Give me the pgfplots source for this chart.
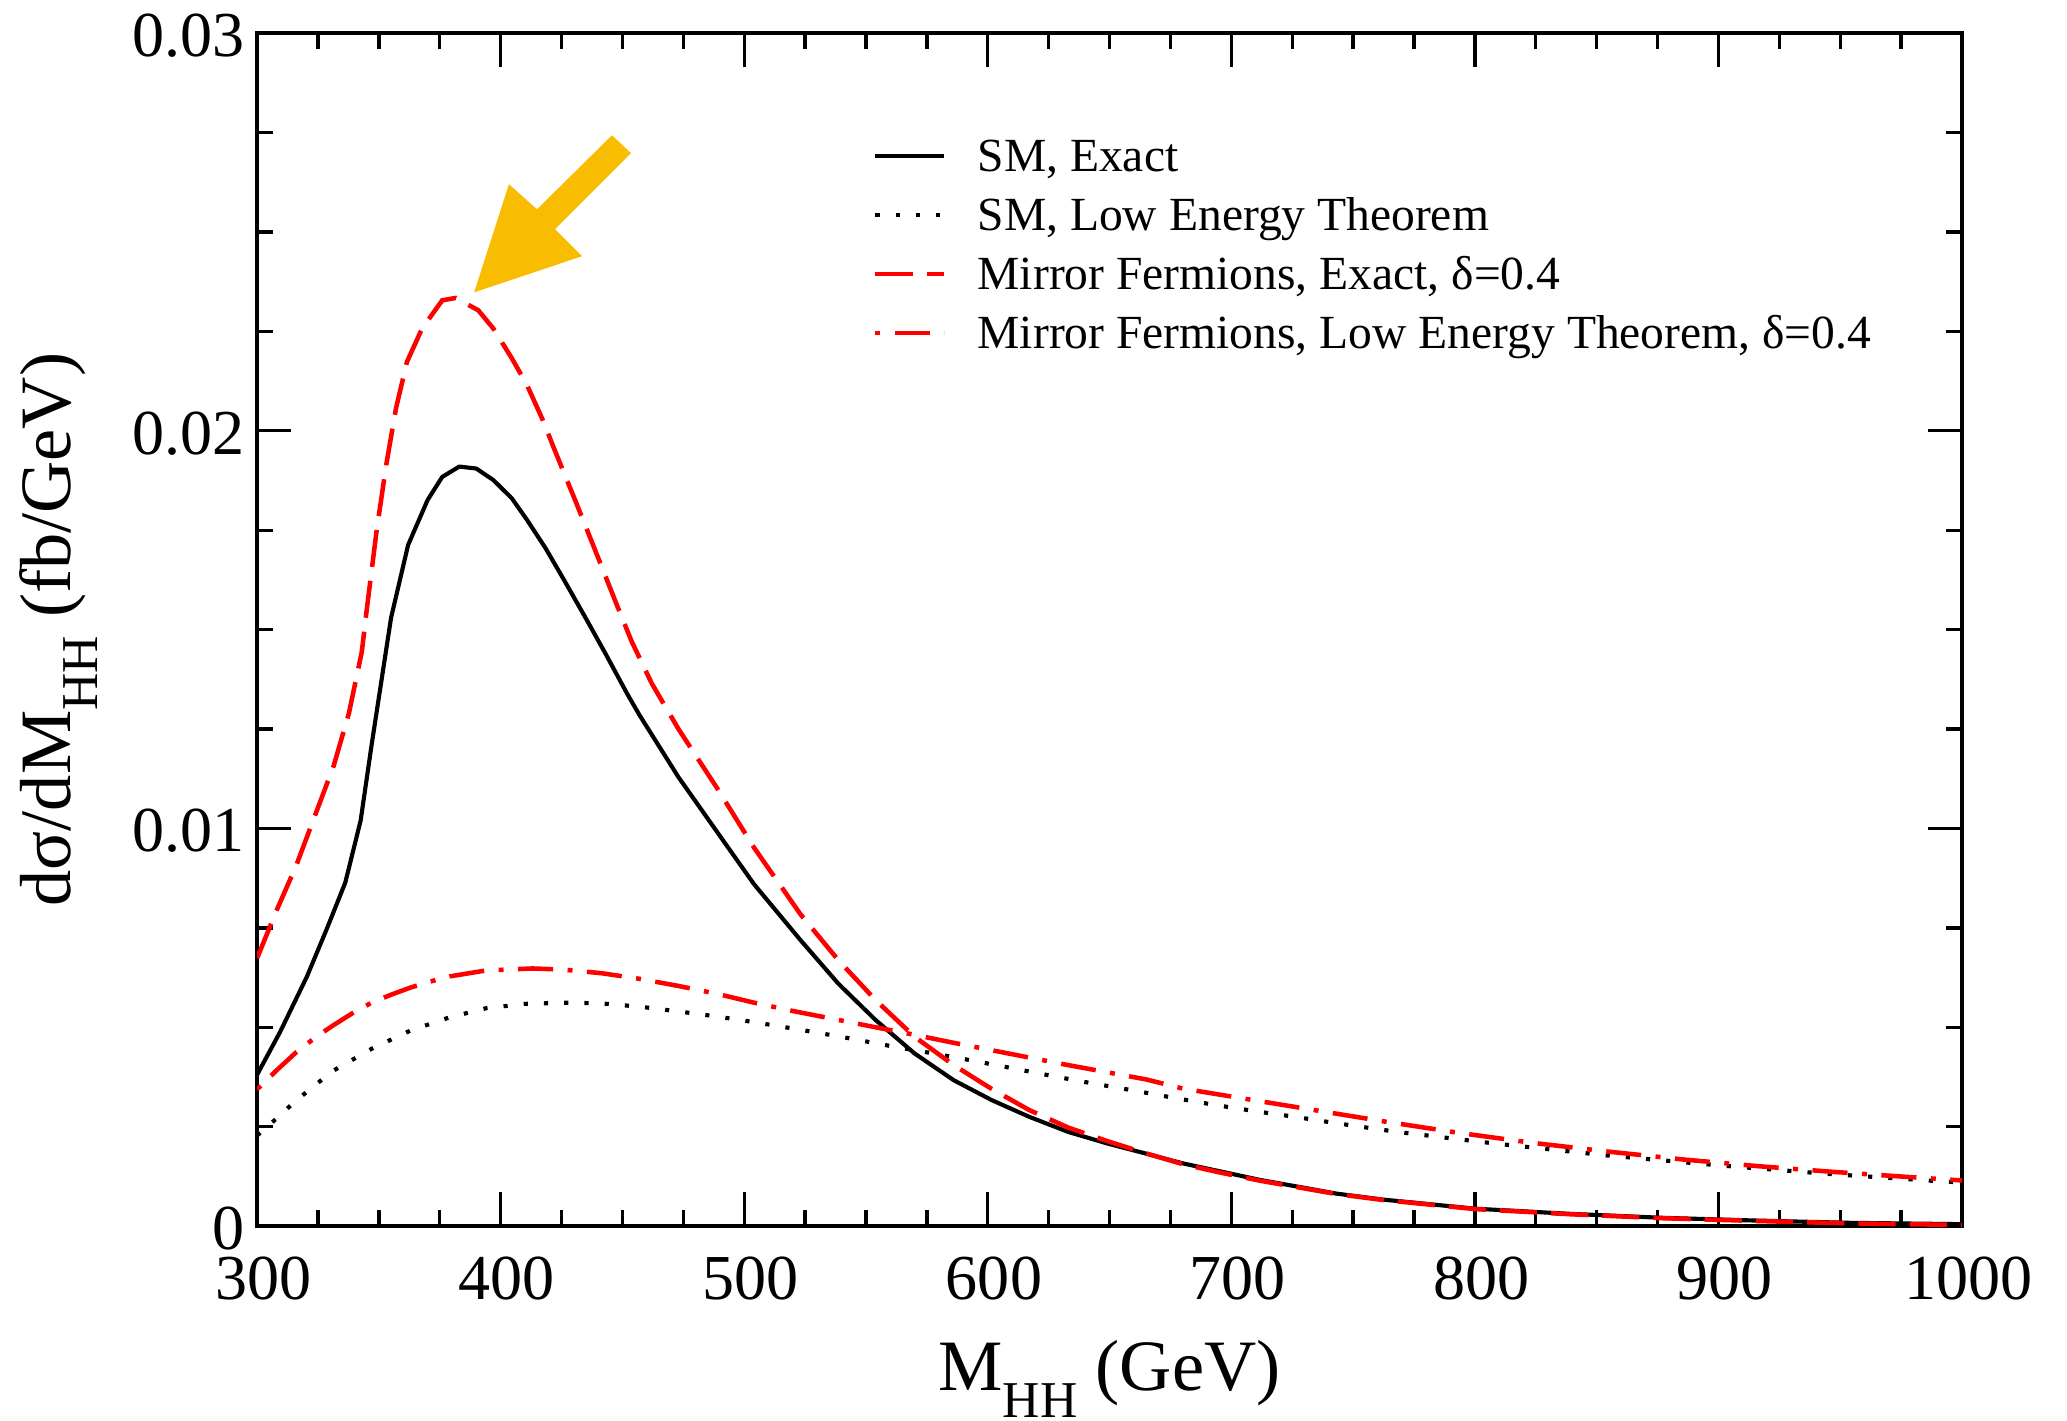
\documentclass[border=0pt]{standalone}
\usepackage{fontspec}
\setmainfont{Liberation Serif}
\usepackage{pgfplots}
\pgfplotsset{compat=1.18}
\definecolor{arrowgold}{RGB}{248,188,0}
\definecolor{pured}{RGB}{255,0,0}

\begin{document}
\begin{tikzpicture}
\begin{axis}[
  at={(0,0)}, anchor=south west,
  scale only axis, width=412.4pt, height=288.6pt,
  xmin=300, xmax=1000, ymin=0, ymax=0.03,
  xtick={300,400,500,600,700,800,900,1000},
  xticklabels={300,400,500,600,700,800,900,1000},
  ytick={0,0.01,0.02,0.03}, yticklabels={0,0.01,0.02,0.03},
  minor x tick num=3, minor y tick num=3,
  tick align=inside, tick pos=both,
  major tick length=8.2pt, minor tick length=3.9pt,
  every tick/.style={black, line width=0.8pt},
  axis line style={line width=1pt},
  /pgf/number format/assume math mode=true,
  ticklabel style={font=\fontsize{15.5}{16}\selectfont, inner sep=1pt},
  xticklabel style={yshift=-6.3pt, xshift=1.5pt},
  yticklabel style={xshift=-1.9pt, yshift=-0.6pt},
  xlabel={M\raisebox{-6.5pt}{\fontsize{12.5}{12.5}\selectfont HH} (GeV)},
  ylabel={dσ/dM\raisebox{-6.5pt}{\fontsize{12.5}{12.5}\selectfont HH} (fb/GeV)},
  label style={font=\fontsize{17.5}{18}\selectfont},
  xlabel style={at={([yshift=-39.7pt]axis description cs:0.5,0)}, anchor=base},
  ylabel style={at={([xshift=-45.2pt]axis description cs:0,0.5)}, anchor=base},
  legend style={at={(axis description cs:0.3613,0.917)}, anchor=north west,
    draw=none, fill=none, inner sep=0pt, outer sep=0pt,
    column sep=7.5pt, row sep=2.8pt,
    font=\fontsize{11.5}{13}\selectfont,
    nodes={inner sep=0pt, text height=9.5pt, text depth=2pt}},
  legend cell align=left,
  legend image code/.code={\draw[#1] (0pt,0pt) -- (16.7pt,0pt);},
]
% SM, Exact
\addplot[black, line width=1pt, line join=round] coordinates {
(300,0.00381) (309.4,0.00488) (320.4,0.00627) (328.3,0.00743) (336.2,0.00864)
(342.5,0.0102) (347,0.0121) (351,0.0137) (355,0.0153) (362,0.01713)
(370,0.01826) (376,0.01884) (383,0.0191) (390,0.01905) (397,0.01876)
(404.6,0.0183) (410.8,0.01776) (418.5,0.01704) (426,0.01625) (435,0.01528)
(443,0.0144) (452,0.01338) (457,0.01285) (473,0.01129) (489,0.0099)
(504,0.0086) (523,0.0072) (538.6,0.0061) (554,0.00518) (570,0.00434)
(586,0.00367) (601.6,0.00317) (617,0.00275) (633,0.00237) (649,0.00208)
(664.6,0.00183) (680,0.00158) (696,0.00137) (712,0.00116) (727.6,0.00099)
(743,0.00082) (762,0.00067) (800,0.00044) (839,0.00031) (877,0.00021)
(916,0.00014) (954,0.000084) (1000,0.00005)
};
\addlegendentry{SM, Exact}
% SM, Low Energy Theorem
\addplot[black, line width=1pt, dash pattern=on 1pt off 3.9pt] coordinates {
(300,0.00228) (306,0.0026) (316,0.00316) (331,0.0039) (347,0.00446)
(363,0.00492) (379,0.00525) (394,0.00548) (410,0.00559) (428,0.00562)
(441.5,0.0056) (457,0.00552) (473,0.0054) (489,0.00527) (504,0.00513)
(520,0.00497) (540,0.00476) (560,0.00453) (578,0.00434) (594,0.00416)
(611,0.00396) (627,0.00377) (643,0.00359) (660,0.00341) (677,0.00322)
(693,0.00305) (710,0.00289) (726,0.00275) (743,0.00259) (768,0.00237)
(808,0.00208) (854,0.00178) (900,0.00153) (946,0.00131) (993,0.00112)
(1000,0.00110)
};
\addlegendentry{SM, Low Energy Theorem}
% Mirror Fermions, Exact
\addplot[pured, line width=1.1pt, dash pattern=on 9pt off 3.4pt] coordinates {
(300,0.00674) (308,0.00794) (316,0.00906) (323.6,0.0103) (331.4,0.01157)
(337.7,0.0129) (343,0.01445) (345,0.0155) (349,0.01746) (353,0.01914)
(357,0.02056) (361.5,0.02173) (367.7,0.02257) (376,0.02328) (381.5,0.02334)
(390.8,0.02303) (397,0.02257) (404.6,0.02182) (410.8,0.02115) (417,0.02031)
(423,0.01939) (430.8,0.01822) (438.5,0.01704) (447.7,0.01562) (453.8,0.0147)
(462,0.01365) (473,0.0125) (489,0.011) (504,0.00952) (523,0.00785)
(538.6,0.00669) (554,0.00568) (570,0.00476) (586,0.00405) (601.6,0.00345)
(617,0.00292) (633,0.00248) (649,0.00214) (665,0.00183) (680,0.00156)
(696,0.00134) (712,0.00114) (728,0.00097) (743,0.00081) (762,0.00066)
(800,0.00043) (839,0.0003) (877,0.0002) (916,0.00013) (954,0.00007)
(1000,0.00003)
};
\addlegendentry{Mirror Fermions, Exact, δ=0.4}
% Mirror Fermions, Low Energy Theorem
\addplot[pured, line width=1.1pt, dash pattern=on 1.2pt off 3.5pt on 8.5pt off 3.5pt] coordinates {
(300,0.00344) (308,0.00392) (316,0.00437) (324,0.00475) (331,0.00504)
(339,0.00535) (347,0.00562) (355,0.00582) (363,0.006) (371,0.00615)
(379,0.00628) (394,0.00643) (413,0.00648) (426,0.00645) (441.5,0.00636)
(457,0.00622) (473,0.00604) (489,0.00584) (504,0.00562) (520,0.00541)
(540,0.00517) (554,0.005) (570,0.00481) (586,0.00461) (602,0.00442)
(617,0.00424) (633,0.00405) (649,0.00387) (665,0.00369) (680,0.00346)
(696,0.0033) (712,0.00314) (728,0.00298) (743,0.00283) (762,0.00264)
(793,0.00235) (823,0.0021) (854,0.00188) (885,0.00168) (916,0.00151)
(946,0.00137) (977,0.00124) (1000,0.00115)
};
\addlegendentry{Mirror Fermions, Low Energy Theorem, δ=0.4}
% annotation arrow
\fill[arrowgold] (axis cs:389.1,0.02348) -- (axis cs:403.4,0.0262) -- (axis cs:414.9,0.02557)
  -- (axis cs:445.7,0.02743) -- (axis cs:453.5,0.02698) -- (axis cs:422.3,0.02507)
  -- (axis cs:433.4,0.02439) -- cycle;
\end{axis}
\pgfresetboundingbox
\path (-62.2pt,-46.9pt) rectangle (437.8pt,296.6pt);
\end{tikzpicture}
\end{document}
